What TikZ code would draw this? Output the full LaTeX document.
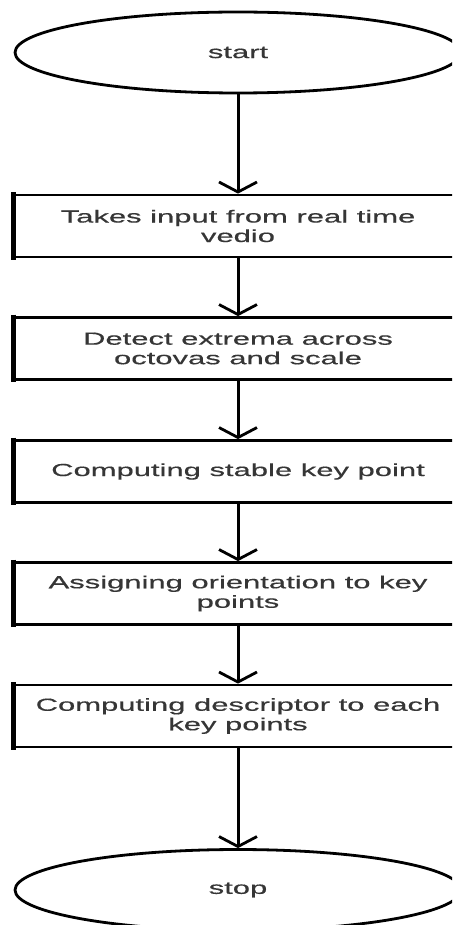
\documentclass[tikz,border=0pt]{standalone}
\usepackage{fontspec}
\setmainfont{Liberation Sans}[FakeStretch=1.77,FakeBold=0.5]
\usetikzlibrary{shapes.geometric,arrows.meta}
\definecolor{txt}{HTML}{363636}

\begin{document}
\begin{tikzpicture}[x=1pt,y=-1pt,
  every node/.style={font=\fontsize{17.5}{19.5}\selectfont, text=txt},
  terminal/.style={draw, ellipse, line width=2.8pt, minimum width=446pt,
    minimum height=81pt, inner sep=0pt},
  stepbox/.style={draw, rectangle, line width=2.8pt, minimum width=446pt,
    minimum height=62pt, inner sep=0pt, align=center},
  leftedge/.style={line width=4.6pt},
  flow/.style={line width=3pt,
    -{Straight Barb[length=10pt,width=38pt,line width=2.8pt]}}]
\useasboundingbox (0,0) rectangle (452,925);
\clip (0,0) rectangle (452,925);

% terminals and process steps
\node[terminal] (start) at (238,52.5) {start};
\node[stepbox] (s1) at (238,226)   {Takes input from real time\\vedio};
\node[stepbox] (s2) at (238,348.5) {Detect extrema across\\octovas and scale};
\node[stepbox] (s3) at (238,471.5) {Computing stable key point};
\node[stepbox] (s4) at (238,593.5) {Assigning orientation to key\\points};
\node[stepbox] (s5) at (238,716)   {Computing descriptor to each\\key points};
\node[terminal] (stop) at (238,890) {stop};

% heavier left sides of the boxes
\foreach \b in {s1,s2,s3,s4,s5}
  \draw[leftedge] ([yshift=1.4pt]\b.north west) -- ([yshift=-1.4pt]\b.south west);

% flow arrows
\draw[flow] (start) -- (s1);
\draw[flow] (s1) -- (s2);
\draw[flow] (s2) -- (s3);
\draw[flow] (s3) -- (s4);
\draw[flow] (s4) -- (s5);
\draw[flow] (s5) -- (stop);
\end{tikzpicture}
\end{document}
